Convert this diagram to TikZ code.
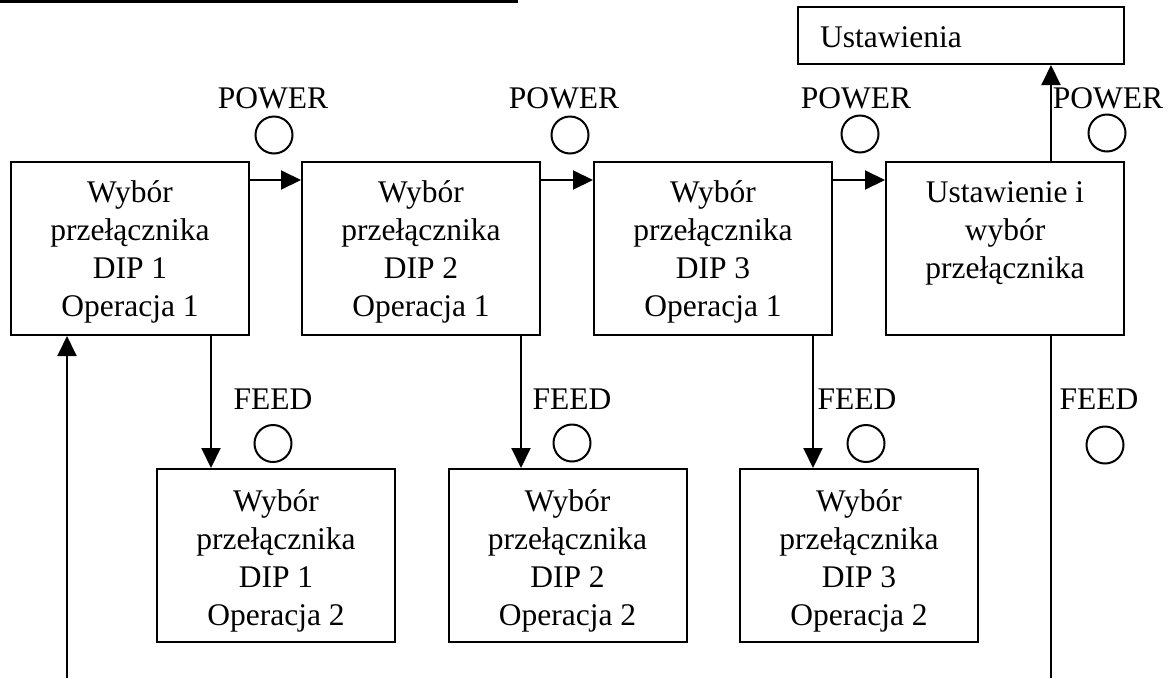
\documentclass[tikz,border=0pt]{standalone}
\usepackage{fontspec}
\setmainfont{Liberation Serif}
\usetikzlibrary{arrows.meta}
\tikzset{
  every node/.style={font=\fontsize{31.5}{38}\selectfont},
  box/.style={draw, line width=2pt, minimum width=238pt, minimum height=173pt, inner sep=0pt},
  txt/.style={anchor=north, align=center, inner sep=0pt},
  lbl/.style={anchor=base, inner sep=0pt},
  lamp/.style={draw, circle, line width=2pt, minimum size=37pt, inner sep=0pt},
  conn/.style={line width=2pt},
  arr/.style={conn, -{Triangle[length=20pt,width=19pt]}}
}
\begin{document}
\begin{tikzpicture}[x=1pt,y=-1pt]
\useasboundingbox (0,0) rectangle (1170,678);
% top rule
\coordinate (tl1) at (0,1.5);
\coordinate (tl2) at (518,1.5);
\draw[line width=3pt] (tl1) -- (tl2);
% top row boxes
\node[box] (b1) at (130,248.5) {};
\node[box] (b2) at (421,248.5) {};
\node[box] (b3) at (713,248.5) {};
\node[box] (b4) at (1005,248.5) {};
\node[txt] (t1) at (130,175.4) {\strut Wybór\\przełącznika\\DIP 1\\Operacja 1};
\node[txt] (t2) at (421,175.4) {\strut Wybór\\przełącznika\\DIP 2\\Operacja 1};
\node[txt] (t3) at (713,175.4) {\strut Wybór\\przełącznika\\DIP 3\\Operacja 1};
\node[txt] (t4) at (1005,175.4) {\strut Ustawienie i\\wybór\\przełącznika};
% bottom row boxes
\node[box] (c1) at (276,555.5) {};
\node[box] (c2) at (567.5,555.5) {};
\node[box] (c3) at (859,555.5) {};
\node[txt] (u1) at (276,484.4) {\strut Wybór\\przełącznika\\DIP 1\\Operacja 2};
\node[txt] (u2) at (567.5,484.4) {\strut Wybór\\przełącznika\\DIP 2\\Operacja 2};
\node[txt] (u3) at (859,484.4) {\strut Wybór\\przełącznika\\DIP 3\\Operacja 2};
% settings box
\node[draw, line width=2pt, minimum width=326pt, minimum height=57pt, inner sep=0pt] (ust) at (961,35.5) {};
\node[anchor=base west, inner sep=0pt] (ustt) at (820,47) {Ustawienia};
% POWER labels and lamps
\node[lbl] (p1) at (273,108) {POWER};
\node[lbl] (p2) at (564,108) {POWER};
\node[lbl] (p3) at (856,108) {POWER};
\node[lbl] (p4) at (1108,108) {POWER};
\node[lamp] (pl1) at (274,135) {};
\node[lamp] (pl2) at (570,135) {};
\node[lamp] (pl3) at (860,134) {};
\node[lamp] (pl4) at (1107,133) {};
% FEED labels and lamps
\node[lbl] (f1) at (273,409) {FEED};
\node[lbl] (f2) at (572,409) {FEED};
\node[lbl] (f3) at (857,409) {FEED};
\node[lbl] (f4) at (1099,409) {FEED};
\node[lamp] (fl1) at (273,443.5) {};
\node[lamp] (fl2) at (572,443) {};
\node[lamp] (fl3) at (866,443.5) {};
\node[lamp] (fl4) at (1105,445) {};
% horizontal arrows
\draw[arr] ([yshift=-19pt]b1.north east) -- ([yshift=-19pt]b2.north west);
\draw[arr] ([yshift=-19pt]b2.north east) -- ([yshift=-19pt]b3.north west);
\draw[arr] ([yshift=-19pt]b3.north east) -- ([yshift=-19pt]b4.north west);
% down arrows
\draw[arr] (b1.south -| 211,0) -- (c1.north -| 211,0);
\draw[arr] (b2.south -| 521,0) -- (c2.north -| 521,0);
\draw[arr] (b3.south -| 813,0) -- (c3.north -| 813,0);
% return line into first box
\coordinate (in1) at (67,678);
\draw[arr] (in1) -- (b1.south -| in1);
% line out of last box
\coordinate (out4) at (1051,678);
\draw[conn] (out4) -- (b4.south -| out4);
\draw[arr] (b4.north -| out4) -- (ust.south -| out4);
\end{tikzpicture}
\end{document}
